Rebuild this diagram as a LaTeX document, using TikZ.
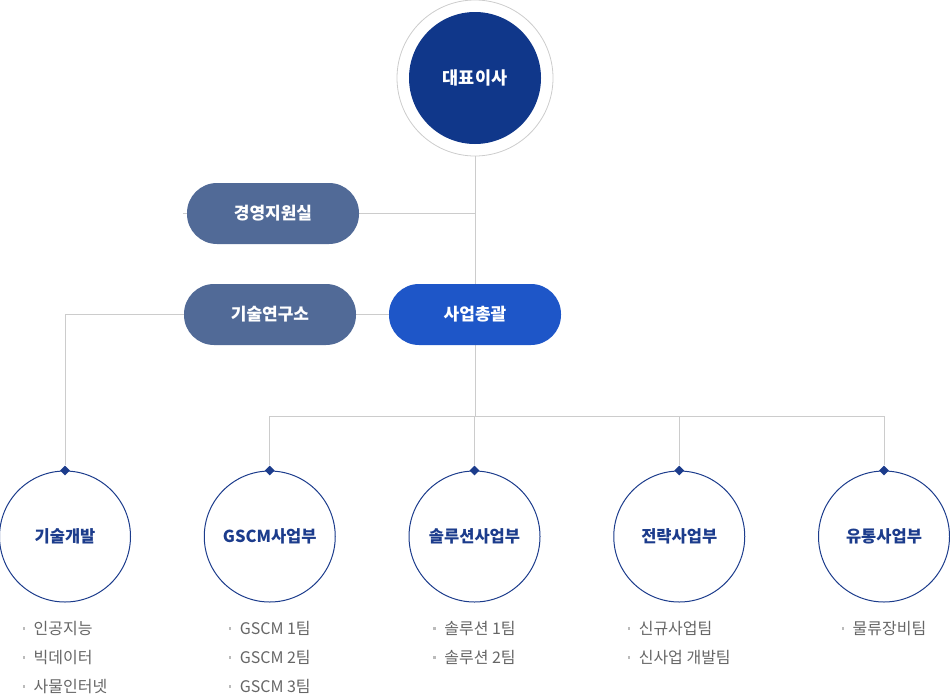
\documentclass[tikz,border=0pt]{standalone}
\usepackage{fontspec}
\setmainfont{Noto Sans CJK KR}
\usetikzlibrary{positioning,shapes.geometric,backgrounds}

\definecolor{ceoblue}{HTML}{10378A}
\definecolor{staffgray}{HTML}{516A97}
\definecolor{bizblue}{HTML}{1E56C8}
\definecolor{deptblue}{HTML}{1C3C8C}
\definecolor{wiregray}{HTML}{CCCCCC}
\definecolor{itemgray}{HTML}{666666}
\definecolor{dotgray}{HTML}{BBBBBB}

\newcommand{\bul}{\textcolor{dotgray}{\rule[5pt]{2.5pt}{2.5pt}}\hspace{8.5pt}}

\tikzset{
  ring/.style={circle, draw=black!20, line width=0.8pt, minimum size=156pt, inner sep=0},
  ceo/.style={circle, fill=ceoblue, minimum size=132pt, text=white,
    font=\bfseries\fontsize{17.5}{20}\selectfont},
  pill/.style={rectangle, rounded corners=30pt, minimum width=172pt, minimum height=61pt,
    text=white, font=\bfseries\fontsize{17}{20}\selectfont},
  dept/.style={circle, draw=deptblue, line width=1pt, fill=white, minimum size=131pt,
    inner sep=0, text=deptblue, font=\bfseries\fontsize{16.5}{20}\selectfont},
  tip/.style={diamond, fill=deptblue, minimum size=10pt, inner sep=0},
  wire/.style={draw=wiregray, line width=0.8pt},
  items/.style={align=left, inner sep=0, text=itemgray, font=\fontsize{16}{29}\selectfont}
}

\begin{document}
\begin{tikzpicture}[x=1pt, y=1pt]
\useasboundingbox (0,0) rectangle (950,-696);

\node [ring] (ceo-ring) at (475,-78) {};
\node [ceo] (ceo) at (475,-78) {대표이사};

\node [pill, fill=staffgray] (staff) at (273,-213.5) {경영지원실};
\node [pill, fill=staffgray] (lab) at (270,-314.5) {기술연구소};
\node [pill, fill=bizblue] (biz) at (475,-314.5) {사업총괄};

\foreach \l [count=\i] in {기술개발,GSCM사업부,솔루션사업부,전략사업부,유통사업부}
  \node [dept] (dept-\i) at ({65+204.75*(\i-1)},-536.5) {\l};

\foreach \i in {1,...,5}
  \node [tip] (tip-\i) at (dept-\i.north) {};

\coordinate (split) at (475,-416);

\node [items, below=19pt of dept-1] (items-1) {\bul 인공지능\\ \bul 빅데이터\\ \bul 사물인터넷};
\node [items, below=19pt of dept-2] (items-2) {\bul GSCM 1팀\\ \bul GSCM 2팀\\ \bul GSCM 3팀};
\node [items, below=19pt of dept-3] (items-3) {\bul 솔루션 1팀\\ \bul 솔루션 2팀};
\node [items, below=19pt of dept-4] (items-4) {\bul 신규사업팀\\ \bul 신사업 개발팀};
\node [items, below=19pt of dept-5] (items-5) {\bul 물류장비팀};

\begin{scope}[on background layer]
  \draw [wire] (ceo-ring.south) -- (split);
  \foreach \i in {2,...,5}
    \draw [wire] (split) -| (tip-\i);
  \draw [wire] ([xshift=-4pt]staff.west) -- (staff -| ceo);
  %\draw [wire] (lab.east) -- (biz.west);
  \draw [wire] (biz.west) -| (tip-1);
\end{scope}

\end{tikzpicture}
\end{document}
